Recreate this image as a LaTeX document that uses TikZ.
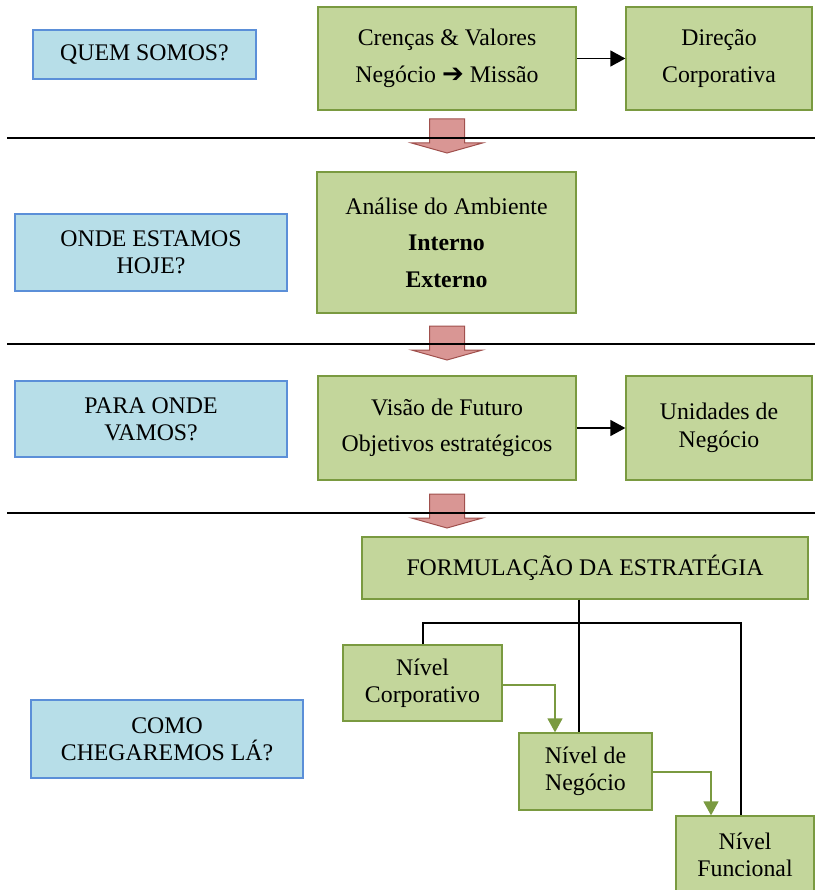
\documentclass[tikz,border=0pt]{standalone}
\usepackage{fontspec}
\setmainfont{Liberation Serif}
\newfontfamily\dejavu{DejaVu Sans}
\usetikzlibrary{arrows.meta}
\definecolor{gfill}{HTML}{C3D69B}
\definecolor{gline}{HTML}{7A9A40}
\definecolor{bfill}{HTML}{B7DEE8}
\definecolor{bline}{HTML}{5B8FD8}
\definecolor{rfill}{HTML}{D99694}
\definecolor{rline}{HTML}{A0504D}
\begin{document}
\begin{tikzpicture}[x=1pt,y=-1pt,
  gbox/.style={draw=gline, fill=gfill, line width=1.3pt, inner sep=0pt, align=center,
    font={\fontsize{23.8pt}{36.5pt}\selectfont}},
  gboxs/.style={gbox, font={\fontsize{23.8pt}{27pt}\selectfont}},
  bbox/.style={draw=bline, fill=bfill, line width=1.3pt, inner sep=0pt, align=center,
    font={\fontsize{23.8pt}{27pt}\selectfont}},
  sepline/.style={line width=1.5pt, black},
  karrow/.style={line width=1.4pt, black, -{Triangle[length=15pt,width=16pt]}},
  garrow/.style={line width=1.5pt, gline, -{Triangle[length=14pt,width=15pt]}},
  tree/.style={line width=1.3pt, black},
  redarrow/.style={fill=rfill, draw=rline, line width=1pt, line join=miter}
]
\useasboundingbox (0,0) rectangle (815,890);
\clip (0,0) rectangle (815,890);

% blue question boxes
\node[bbox, minimum width=223pt, minimum height=49pt] (q1) at (144.5,54.5) {QUEM SOMOS?};
\node[bbox, minimum width=272pt, minimum height=77pt] (q2) at (151,252.5) {ONDE ESTAMOS\\HOJE?};
\node[bbox, minimum width=272pt, minimum height=76pt] (q3) at (151,419) {PARA ONDE\\VAMOS?};
\node[bbox, minimum width=272pt, minimum height=78pt] (q4) at (167,739) {COMO\\CHEGAREMOS LÁ?};

% green boxes
\node[gbox, minimum width=258pt, minimum height=103pt] (cren) at (447,58.5)
  {Crenças \& Valores\\Negócio {\dejavu\bfseries\fontsize{26pt}{26pt}\selectfont ➔} Missão};
\node[gbox, minimum width=186pt, minimum height=103pt] (dir) at (719,58.5) {Direção\\Corporativa};
\node[gbox, minimum width=259pt, minimum height=141pt] (anal) at (446.5,242.5)
  {Análise do Ambiente\\\textbf{Interno}\\\textbf{Externo}};
\node[gbox, minimum width=258pt, minimum height=104pt] (visao) at (447,428)
  {Visão de Futuro\\Objetivos estratégicos};
\node[gbox, minimum width=186pt, minimum height=104pt, font={\fontsize{23.8pt}{28pt}\selectfont}] (unid) at (719,428) {Unidades de\\Negócio};
\node[gboxs, minimum width=446pt, minimum height=62pt] (form) at (585,568) {FORMULAÇÃO DA ESTRATÉGIA};
\node[gboxs, minimum width=159pt, minimum height=76pt] (corp) at (422.5,683) {Nível\\Corporativo};
\node[gboxs, minimum width=133pt, minimum height=77pt] (neg) at (585.5,771.5) {Nível de\\Negócio};
\node[gboxs, minimum width=138pt, minimum height=77pt] (func) at (745,854.5) {Nível\\Funcional};

% black arrows
\draw[karrow] (cren.east) -- (dir.west);
\draw[karrow] (visao.east) -- (unid.west);

% red block arrows
\foreach \t in {119,326,494}{
  \draw[redarrow] (429.5,\t) -- (464.5,\t) -- (464.5,\t+24) -- (482.5,\t+24)
     -- (447,\t+34) -- (411.5,\t+24) -- (429.5,\t+24) -- cycle;
}

% separator lines
\draw[sepline] (7,138) -- (815,138);
\draw[sepline] (7,344) -- (815,344);
\draw[sepline] (7,513) -- (815,513);

% tree connectors
\coordinate (tx) at (579,0);
\coordinate (tl) at (423,623);
\coordinate (tr) at (741,623);
\draw[tree] (form.south -| tx) -- (neg.north -| tx);
\draw[tree] (corp.north -| tl) |- (tr) -- (func.north -| tr);

% green arrows
\coordinate (g1) at (555,685);
\coordinate (g2) at (711,772);
\draw[garrow] (corp.east |- g1) -| (neg.north -| g1);
\draw[garrow] (neg.east |- g2) -| (func.north -| g2);
\end{tikzpicture}
\end{document}
